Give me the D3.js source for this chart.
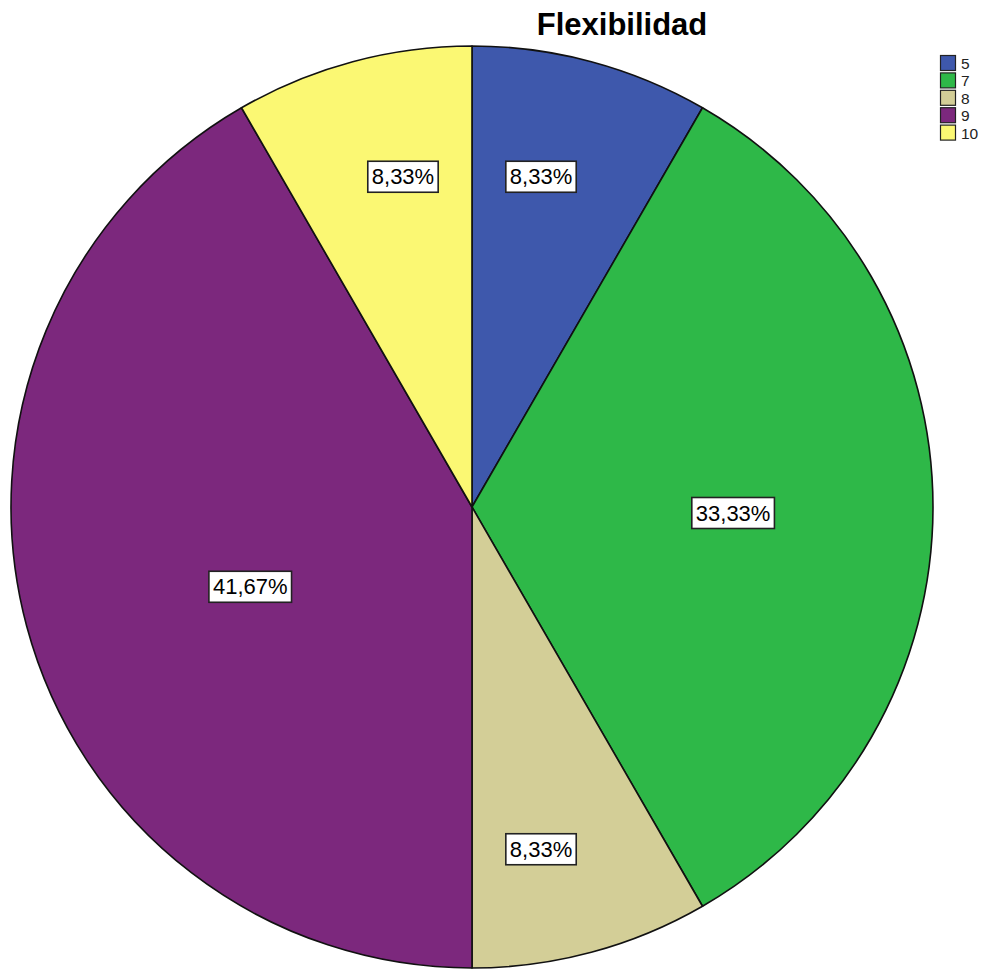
<!DOCTYPE html>
<html>
<head>
<meta charset="utf-8">
<script src="https://cdn.jsdelivr.net/npm/d3@7"></script>
<style>
  html, body { margin: 0; padding: 0; background: #fff; }
  svg { display: block; }
</style>
</head>
<body>
<script>
const title = "Flexibilidad";
const categories = ["5", "7", "8", "9", "10"];
const counts = [1, 4, 1, 5, 1];
const percentLabels = ["8,33%", "33,33%", "8,33%", "41,67%", "8,33%"];
const colors = ["#3E58AC", "#2EB848", "#D3CE97", "#7C287D", "#FBF873"];

const W = 991, H = 970;
const cx = 472, cy = 507, R = 461;

const svg = d3.select("body").append("svg").attr("width", W).attr("height", H);

svg.append("text")
  .attr("x", 622).attr("y", 35)
  .attr("text-anchor", "middle")
  .attr("font-family", "Liberation Sans, Arial, sans-serif")
  .attr("font-weight", "bold")
  .attr("font-size", 31)
  .attr("fill", "#000")
  .text(title);

const data = categories.map((c, i) => ({ cat: c, value: counts[i], label: percentLabels[i], color: colors[i] }));

const pie = d3.pie().value(d => d.value).sort(null);
const arcs = pie(data);
const arc = d3.arc().innerRadius(0).outerRadius(R);

const g = svg.append("g").attr("transform", `translate(${cx},${cy})`);

g.selectAll("path.slice").data(arcs).enter().append("path")
  .attr("class", "slice")
  .attr("d", arc)
  .attr("fill", d => d.data.color)
  .attr("stroke", "#111")
  .attr("stroke-width", 1.6)
  .attr("stroke-linejoin", "round");

// labels: radius depends on slice size (larger slices closer to center),
// angle pulled slightly toward the vertical axis
const labels = g.selectAll("g.lbl").data(arcs).enter().append("g").attr("class", "lbl")
  .attr("transform", d => {
    const mid0 = (d.startAngle + d.endAngle) / 2;
    const mid = mid0 - (6.8 * Math.PI / 180) * Math.sin(2 * mid0);
    const deg = (d.endAngle - d.startAngle) * 180 / Math.PI;
    const r = R * (0.804 - 0.00198 * deg);
    return `translate(${r * Math.sin(mid)},${-r * Math.cos(mid) + 6})`;
  });

labels.append("text")
  .attr("text-anchor", "middle")
  .attr("dominant-baseline", "central")
  .attr("font-family", "Liberation Sans, Arial, sans-serif")
  .attr("font-size", 22)
  .attr("fill", "#000")
  .text(d => d.data.label);

labels.each(function() {
  const gg = d3.select(this);
  const bb = gg.select("text").node().getBBox();
  gg.insert("rect", "text")
    .attr("x", bb.x - 4).attr("y", bb.y - 3)
    .attr("width", bb.width + 8).attr("height", bb.height + 6)
    .attr("fill", "#fff")
    .attr("stroke", "#222")
    .attr("stroke-width", 1.6);
});

// legend
const leg = svg.append("g").attr("transform", "translate(940,55)");
const items = leg.selectAll("g").data(data).enter().append("g")
  .attr("transform", (d, i) => `translate(0,${i * 17.4})`);
items.append("rect")
  .attr("x", 0.5).attr("y", 0.5).attr("width", 15).attr("height", 15)
  .attr("fill", d => d.color)
  .attr("stroke", "#222").attr("stroke-width", 1.2);
items.append("text")
  .attr("x", 21).attr("y", 8.5)
  .attr("dominant-baseline", "central")
  .attr("font-family", "Liberation Sans, Arial, sans-serif")
  .attr("font-size", 15.5)
  .attr("fill", "#222")
  .text(d => d.cat);
</script>
</body>
</html>
